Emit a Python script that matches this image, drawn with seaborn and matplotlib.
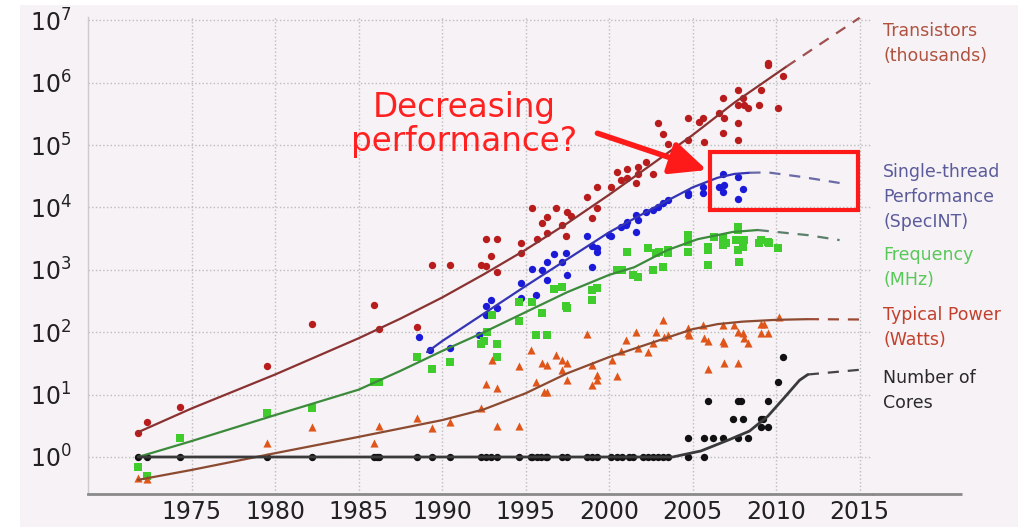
import matplotlib
matplotlib.use("Agg")
import matplotlib.pyplot as plt
import seaborn as sns
from matplotlib.patches import Rectangle

# ----- Dati -----
# Transistors (thousands)
tr_years = [1971.8, 1972.3, 1974.3, 1979.5, 1982.2, 1985.9, 1986.2, 1988.5, 1989.4, 1990.5,
            1992.3, 1992.6, 1992.9, 1993.3, 1994.7, 1992.6, 1993.3, 1994.7, 1995.4, 1995.7,
            1996.0, 1996.3, 1996.3, 1996.8, 1997.2, 1997.5, 1997.4, 1997.7, 1998.7, 1999.0,
            1999.3, 1999.3, 2000.1, 2000.5, 2001.1, 2000.7, 2001.1, 2001.7, 2001.6, 2002.6,
            2001.7, 2002.2, 2003.2, 2003.5, 2002.9, 2004.7, 2004.7, 2005.6, 2005.4, 2005.7,
            2006.8, 2006.6, 2006.9, 2006.8, 2007.7, 2007.7, 2007.7, 2007.7, 2008.0, 2008.1,
            2008.3, 2009.0, 2009.1, 2009.5, 2009.5, 2010.1, 2010.4]
tr_values = [2.4, 3.6, 6.3, 29, 135, 275, 112, 120, 1200, 1200,
             1200, 1150, 1650, 920, 1860, 3100, 3100, 2700, 9800, 3100,
             5600, 7000, 3900, 9800, 5200, 8500, 3500, 7400, 14700, 6800,
             9800, 21000, 21000, 37000, 41000, 27500, 29500, 35000, 24600, 35000,
             44000, 53000, 150000, 104000, 225000, 270000, 120000, 270000, 233000, 112000,
             570000, 325000, 270000, 156000, 760000, 440000, 225000, 120000, 570000, 440000,
             390000, 440000, 760000, 2.1e6, 1.9e6, 390000, 1.3e6]

# Single-thread performance (SpecINT)
st_years = [1988.6, 1989.3, 1990.5, 1992.2, 1992.6, 1992.9, 1992.6, 1993.3, 1994.7, 1994.7,
            1995.4, 1995.6, 1996.0, 1996.3, 1996.3, 1996.7, 1997.2, 1997.4, 1997.5, 1998.7,
            1999.0, 1999.0, 1999.3, 2000.1, 1999.3, 2000.0, 2000.7, 2001.1, 2001.7, 2001.0,
            2001.6, 2001.6, 2002.2, 2002.6, 2002.9, 2003.2, 2003.5, 2004.7, 2004.7, 2005.6,
            2005.6, 2006.8, 2006.6, 2006.9, 2006.8, 2007.7, 2008.0, 2007.7]
st_values = [84, 52, 56, 90, 190, 330, 260, 245, 615, 355,
             1030, 400, 1000, 1340, 690, 1780, 1340, 1860, 830, 3500,
             2400, 1100, 1950, 3500, 2230, 3600, 4900, 5900, 6300, 5200,
             7500, 4000, 8500, 9100, 10200, 11700, 13100, 17000, 15800, 21200,
             17000, 34500, 21200, 23000, 17800, 31000, 19700, 13600]

# Frequency (MHz)
fr_years = [1971.8, 1972.3, 1974.3, 1979.5, 1982.2, 1985.9, 1986.2, 1988.5, 1989.4, 1990.5,
            1992.3, 1992.7, 1992.5, 1993.0, 1993.3, 1993.3, 1994.6, 1994.6, 1995.4, 1995.6,
            1996.3, 1996.0, 1996.7, 1997.2, 1997.4, 1997.5, 1999.0, 1999.3, 1999.0, 2000.5,
            2001.1, 2000.8, 2001.4, 2001.7, 2002.3, 2002.8, 2003.0, 2002.6, 2003.2, 2003.5,
            2003.5, 2004.7, 2004.7, 2004.7, 2005.9, 2005.9, 2005.9, 2006.3, 2006.8, 2006.8,
            2007.0, 2007.7, 2007.7, 2007.6, 2008.0, 2007.7, 2008.1, 2007.8, 2009.1, 2009.5,
            2009.0, 2009.6, 2010.1]
fr_values = [0.69, 0.50, 2.0, 5.0, 6.1, 16, 16, 40, 26, 33,
             65, 100, 72, 190, 65, 40, 300, 150, 300, 90,
             90, 200, 490, 530, 260, 245, 475, 510, 330, 1000,
             1940, 1000, 830, 760, 2230, 1860, 1940, 1000, 1100, 1860,
             2080, 3600, 2800, 1940, 1200, 2300, 2080, 3350, 3200, 2500,
             2700, 4900, 4350, 3000, 2300, 2080, 3000, 1340, 3000, 2800,
             2700, 2700, 2230]

# Typical power (Watts)
pw_years = [1971.8, 1972.3, 1979.5, 1982.2, 1985.9, 1986.2, 1988.5, 1989.4, 1990.5, 1992.3,
            1992.6, 1993.3, 1993.3, 1993.0, 1994.6, 1994.6, 1995.3, 1995.6, 1996.0, 1996.3,
            1996.3, 1996.1, 1996.8, 1997.2, 1997.5, 1997.2, 1997.5, 1998.7, 1999.0, 1999.3,
            1999.3, 1999.0, 2000.5, 2000.2, 2000.7, 2001.0, 2001.6, 2001.7, 2002.3, 2002.6,
            2002.8, 2003.2, 2003.3, 2003.5, 2004.7, 2004.7, 2004.8, 2005.6, 2005.7, 2005.9,
            2005.9, 2006.8, 2006.8, 2006.9, 2006.9, 2007.5, 2007.7, 2008.0, 2008.1, 2008.3,
            2007.7, 2009.1, 2009.3, 2009.1, 2009.5, 2010.2]
pw_values = [0.46, 0.44, 1.7, 3.0, 1.7, 3.1, 4.2, 2.9, 3.6, 6.1,
             15, 13, 3.1, 36, 3.1, 29, 52, 16, 32, 30,
             11, 11, 43, 36, 32, 25, 17, 93, 30, 21,
             17, 14, 20, 36, 50, 75, 100, 56, 48, 67,
             100, 158, 84, 90, 117, 97, 90, 130, 81, 72,
             26, 130, 72, 68, 32, 130, 100, 97, 81, 68,
             32, 135, 135, 97, 97, 175]

# Number of cores
co_years = [1971.8, 1972.3, 1974.3, 1979.5, 1982.2, 1985.9, 1986.1, 1986.2, 1988.5, 1989.4,
            1990.5, 1992.3, 1992.6, 1992.9, 1993.3, 1994.6, 1995.3, 1995.4, 1995.7, 1995.9,
            1996.2, 1996.3, 1997.2, 1997.5, 1998.7, 1999.0, 1999.3, 2000.1, 2000.5, 2000.8,
            2001.2, 2001.4, 2002.0, 2002.3, 2002.6, 2002.9, 2003.2, 2003.5, 2004.7, 2005.7,
            2004.7, 2005.7, 2006.2, 2006.8, 2007.7, 2008.3, 2007.4, 2008.0, 2009.1, 2009.2,
            2009.1, 2009.5, 2005.9, 2007.7, 2007.9, 2009.5, 2010.1, 2010.4]
co_values = [1] * 40 + [2, 2, 2, 2, 2, 2, 4, 4, 4, 4, 3, 3, 8, 8, 8, 8, 16, 40]

# Linee di tendenza (tratto pieno) ed estrapolazioni (tratteggio)
tr_fit_years = [1971.8, 1975, 1980, 1985, 1987.5, 1990, 1992.5, 1995, 1997.5, 2000, 2002.5, 2005, 2007.5, 2010.6]
tr_fit_values = [2.5, 6, 21, 80, 165, 360, 850, 2100, 5600, 16000, 48000, 145000, 480000, 1.8e6]
tr_ext_years = [2010.6, 2015]
tr_ext_values = [1.8e6, 1.1e7]

st_fit_years = [1989.1, 1990, 1995, 2000, 2001, 2003, 2005, 2006.5, 2007.5, 2008.4]
st_fit_values = [48, 72, 550, 4000, 5600, 11000, 21000, 30000, 34500, 36000]
st_ext_years = [2008.4, 2009.5, 2011.5, 2013.8]
st_ext_values = [36000, 36500, 31000, 24700]

fr_fit_years = [1971.8, 1975, 1980, 1985, 1987.5, 1990, 1992.5, 1995, 1997.5, 2000, 2001.5, 2003.5, 2005.3, 2007.4, 2008.9]
fr_fit_values = [1.0, 1.8, 4.7, 12, 24, 50, 100, 210, 440, 830, 1100, 2080, 3100, 4050, 4350]
fr_ext_years = [2008.9, 2011.9, 2013.8]
fr_ext_values = [4350, 3600, 3000]

pw_fit_years = [1971.8, 1975, 1980, 1985, 1990, 1992.5, 1995, 1997.5, 2000, 2002.5, 2005, 2006.5, 2008, 2010, 2011.9]
pw_fit_values = [0.43, 0.62, 1.15, 2.1, 3.9, 5.8, 10.5, 22, 40, 67, 112, 135, 148, 158, 162]
pw_ext_years = [2011.9, 2015]
pw_ext_values = [162, 160]

co_fit_years = [1971.8, 2003.8, 2005.5, 2007.2, 2008.4, 2009.5, 2010.5, 2011.4, 2011.9]
co_fit_values = [1, 1.0, 1.25, 1.9, 2.6, 4.5, 9, 17, 21]
co_ext_years = [2011.9, 2015]
co_ext_values = [21, 25]

x_ticks = [1975, 1980, 1985, 1990, 1995, 2000, 2005, 2010, 2015]
y_ticks = [1, 10, 100, 1e3, 1e4, 1e5, 1e6, 1e7]

BG = "#f6f2f5"


def main():
    sns.set_style("white")
    plt.rcParams['font.family'] = ['DejaVu Sans']

    fig = plt.figure(figsize=(10.25, 5.27), dpi=100, facecolor="white")
    # sfondo grigio-rosato con il bordino bianco a sinistra e in alto
    fig.patches.append(Rectangle((0.0195, 0), 0.974, 0.9905, transform=fig.transFigure,
                                 facecolor=BG, edgecolor="none", zorder=-1))
    ax = fig.add_axes([0.0859, 0.0626, 0.765, 0.906])
    ax.set_facecolor("none")
    ax.set_yscale("log")
    ax.set_xlim(1968.8, 2015.75)
    ax.set_ylim(0.255, 1.15e7)

    # ----- punti -----
    sns.scatterplot(x=tr_years, y=tr_values, ax=ax, color="#b81c1c", marker="o", s=28, linewidth=0, zorder=3)
    sns.scatterplot(x=st_years, y=st_values, ax=ax, color="#1a1ad8", marker="o", s=28, linewidth=0, zorder=3)
    sns.scatterplot(x=fr_years, y=fr_values, ax=ax, color="#3fcc2c", marker="s", s=28, linewidth=0, zorder=3)
    sns.scatterplot(x=pw_years, y=pw_values, ax=ax, color="#e0561a", marker="^", s=34, linewidth=0, zorder=3)
    sns.scatterplot(x=co_years, y=co_values, ax=ax, color="#111111", marker="o", s=28, linewidth=0, zorder=3)

    # ----- tendenze -----
    dash = (0, (5, 4))
    fits = [
        (tr_fit_years, tr_fit_values, tr_ext_years, tr_ext_values, "#8a3232", "#a05050", 1.6),
        (st_fit_years, st_fit_values, st_ext_years, st_ext_values, "#3434b4", "#6a6aa8", 1.6),
        (fr_fit_years, fr_fit_values, fr_ext_years, fr_ext_values, "#3c8a3c", "#5c7f6c", 1.6),
        (pw_fit_years, pw_fit_values, pw_ext_years, pw_ext_values, "#8c4a30", "#9c4a36", 1.6),
        (co_fit_years, co_fit_values, co_ext_years, co_ext_values, "#3a3a3a", "#444444", 2.0),
    ]
    for fx, fy, ex, ey, c_fit, c_ext, lw in fits:
        sns.lineplot(x=fx, y=fy, ax=ax, color=c_fit, linewidth=lw, estimator=None, sort=False, zorder=4)
        sns.lineplot(x=ex, y=ey, ax=ax, color=c_ext, linewidth=1.6, estimator=None, sort=False,
                     linestyle=dash, zorder=4)

    # ----- assi e griglia -----
    ax.set_xticks(x_ticks)
    ax.set_yticks(y_ticks)
    ax.grid(True, which="major", linestyle=":", color="#bdbdbd", linewidth=1.0)
    ax.tick_params(axis="x", length=0, pad=4, labelsize=17, colors="#222222")
    ax.tick_params(axis="y", which="major", length=4, pad=8, labelsize=17, colors="#222222", color="#999999")
    ax.tick_params(axis="y", which="minor", length=2.5, color="#aaaaaa")
    for s in ["top", "right"]:
        ax.spines[s].set_visible(False)
    ax.spines["left"].set_color("#cccccc")
    ax.spines["left"].set_linewidth(1)
    ax.spines["bottom"].set_color("#8a8a8a")
    ax.spines["bottom"].set_linewidth(2)
    ax.plot([1, 1.115], [0, 0], transform=ax.transAxes, clip_on=False, color="#8a8a8a",
            linewidth=2, solid_capstyle="butt")

    # ----- etichette a destra -----
    lab = dict(fontsize=12.5, ha="left", va="center", linespacing=1.5)
    ax.text(2016.4, 10 ** 6.63, "Transistors\n(thousands)", color="#b0523f", **lab)
    ax.text(2016.4, 10 ** 4.17, "Single-thread\nPerformance\n(SpecINT)", color="#5b5b9b", **lab)
    ax.text(2016.4, 10 ** 3.04, "Frequency\n(MHz)", color="#58c858", **lab)
    ax.text(2016.4, 10 ** 2.07, "Typical Power\n(Watts)", color="#c2402c", **lab)
    ax.text(2016.4, 10 ** 1.07, "Number of\nCores", color="#2a2a2a", **lab)

    # ----- annotazione rossa -----
    ax.text(1991.3, 10 ** 5.33, "Decreasing\nperformance?", ha="center", va="center",
            fontsize=23.5, color="#ff2020", linespacing=1.05, zorder=6)
    ax.annotate("", xy=(2005.85, 10 ** 4.60), xytext=(1999.3, 10 ** 5.19),
                arrowprops=dict(arrowstyle="-|>,head_length=1.1,head_width=0.5", color="#ff1a1a",
                                lw=4, mutation_scale=20, shrinkA=0, shrinkB=0), zorder=6)
    ax.add_patch(Rectangle((2006.05, 9100), 8.85, 77000 - 9100, fill=False, edgecolor="#ff1a1a",
                           linewidth=3, zorder=6, clip_on=False))

    fig.savefig("out.png", dpi=100, facecolor=fig.get_facecolor())


if __name__ == "__main__":
    main()
